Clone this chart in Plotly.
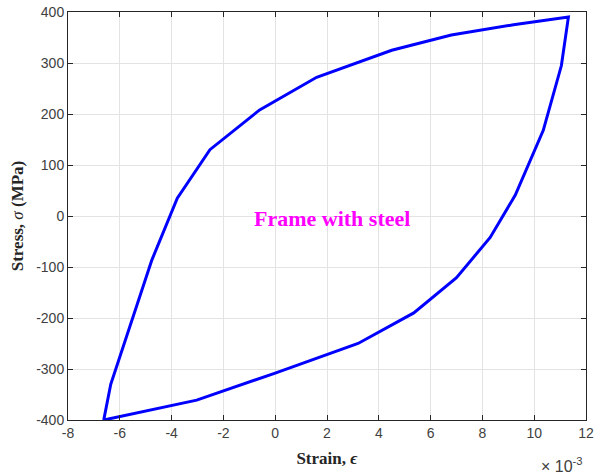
import plotly.graph_objects as go

# Hysteresis loop data (strain in units of 1e-3, stress in MPa)
strain = [-6.62, -6.35, -4.76, -3.78, -2.52, -0.6, 1.6, 4.5, 6.8, 9.2, 11.32,
          11.05, 10.35, 9.27, 8.3, 7.0, 5.35, 3.2, 0.0, -3.03, -6.62]
stress = [-400, -330, -86, 35, 130, 208, 272, 325, 355, 375, 390,
          295, 168, 41, -42, -121, -190, -250, -308, -361, -400]

x_ticks = [-8, -6, -4, -2, 0, 2, 4, 6, 8, 10, 12]
y_ticks = [-400, -300, -200, -100, 0, 100, 200, 300, 400]

fig = go.Figure()
fig.add_trace(go.Scatter(x=strain, y=stress, mode="lines",
                         line=dict(color="#0000ff", width=3), showlegend=False))

axis_common = dict(showline=True, linecolor="#262626", linewidth=1, mirror="allticks",
                   ticks="inside", ticklen=5, tickcolor="#262626", automargin=False,
                   showgrid=True, gridcolor="#e3e3e3", gridwidth=1, zeroline=False,
                   tickfont=dict(family="Liberation Sans, Arial", size=14, color="#404040"))

fig.update_xaxes(range=[-8, 12], tickvals=x_ticks, ticktext=[str(v) for v in x_ticks],
                 title=dict(text="<b>Strain, <i>ϵ</i></b>", standoff=12,
                            font=dict(family="Liberation Serif, Times New Roman", size=17, color="#262626")),
                 **axis_common)
fig.update_yaxes(range=[-400, 400], tickvals=y_ticks, ticktext=[str(v) for v in y_ticks],
                 title=dict(text="<b>Stress, </b><i>σ</i><b> (MPa)</b>", standoff=8,
                            font=dict(family="Liberation Serif, Times New Roman", size=17, color="#262626")),
                 **axis_common)

fig.add_annotation(x=2.2, y=-4, xref="x", yref="y", text="<b>Frame with steel</b>", showarrow=False,
                   font=dict(family="Liberation Serif, Times New Roman", size=22, color="#ff00ff"))
fig.add_annotation(x=0.998, y=-0.11, xref="paper", yref="paper", xanchor="right", yanchor="middle",
                   text="× 10<sup>-3</sup>", showarrow=False,
                   font=dict(family="Liberation Sans, Arial", size=16, color="#404040"))

fig.update_layout(width=595, height=475, margin=dict(l=68, r=9, t=12, b=55),
                  plot_bgcolor="white", paper_bgcolor="white")

fig.write_html("out.html")
